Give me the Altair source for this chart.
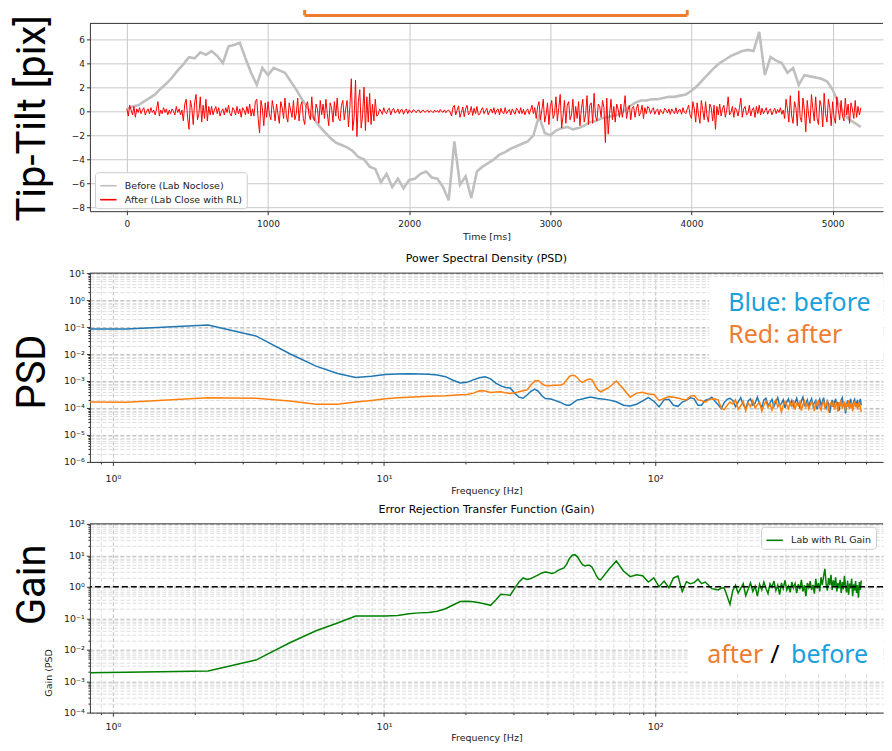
import altair as alt
import pandas as pd

# ---------------- data ----------------
TIME_STEP_BEFORE_MS = 40
TIME_STEP_AFTER_MS = 10

TILT_BEFORE = [
    0.2, 0.4, 0.5, 0.8, 1.1, 1.4, 1.9, 2.3, 2.8, 3.4,
    3.9, 4.5, 4.4, 4.9, 4.7, 5.0, 4.6, 4.0, 5.4, 5.5,
    5.7, 4.4, 3.2, 2.2, 3.6, 3.0, 3.6, 3.4, 3.2, 2.5,
    1.8, 1.0, 0.3, -0.5, -1.2, -1.7, -2.2, -2.6, -2.8, -3.0,
    -3.3, -3.8, -4.0, -4.6, -4.8, -5.9, -5.2, -6.3, -5.6, -6.4,
    -5.7, -5.6, -5.2, -5.0, -5.5, -5.6, -6.3, -7.4, -2.5, -6.1,
    -5.4, -7.2, -5.0, -4.6, -4.3, -4.0, -3.6, -3.4, -3.1, -2.9,
    -2.7, -2.5, -2.0, -0.4, -1.8, -2.0, -1.6, -1.4, -1.3, -1.5,
    -1.4, -1.2, -0.9, -0.8, -0.6, -0.5, -0.4, -0.3, 0.0, 0.4,
    0.7, 0.9, 0.9, 1.0, 1.0, 1.1, 1.2, 1.2, 1.3, 1.4,
    1.7, 2.1, 2.6, 3.1, 3.6, 4.0, 4.3, 4.6, 4.8, 5.0,
    5.1, 5.0, 6.6, 3.0, 4.5, 4.2, 4.0, 3.2, 3.6, 2.2,
    3.0, 2.9, 2.8, 2.7, 2.5, 1.8, 0.7, -0.2, -0.7, -1.0,
    -1.3,
]

TILT_AFTER = [
    # 0-90 ms
    0.2, -0.4, 0.5, 0.1, -0.3, 0.4, -0.5, 0.2, -0.1, 0.3,
    # 100-390 ms
    -0.2, 0.1, 0.3, -0.3, 0.0, 0.2, -0.2, 0.3, -0.1, 0.1,
    -0.3, 0.2, 0.8, -0.4, 0.1, -0.2, 0.3, -0.1, 0.2, -0.3,
    0.1, -0.2, 0.2, 0.0, -0.3, 0.4, -0.1, 0.2, -0.3, 0.1,
    # 400-590 ms
    -0.8, 0.6, 1.0, -0.5, -1.5, 0.9, 0.3, -1.1, 0.7, 1.4,
    -0.7, -0.2, 1.2, -0.9, 0.5, -0.6, 1.0, -0.8, 0.4, -0.3,
    # 600-890 ms
    0.4, -0.3, 0.1, 0.4, -0.2, 0.3, -0.4, 0.0, 0.2, -0.3,
    0.3, -0.1, 0.5, -0.2, -0.4, 0.3, 0.1, -0.3, 0.4, -0.2,
    0.2, -0.5, 0.3, 0.1, -0.3, 0.4, -0.2, 0.6, -0.4, 0.2,
    # 900-990 ms
    -0.4, 0.8, 1.0, -0.6, -1.8, 0.9, 0.2, -1.2, 0.7, -0.5,
    # 1000-1550 ms
    0.8, -0.3, -0.7, 0.9, 0.2, -0.8, 0.6, -0.2, -1.0, 0.8,
    0.3, -0.6, 1.1, -0.4, -0.9, 0.7, 0.1, -0.5, 0.9, -0.7,
    -0.2, 1.1, -0.8, 0.4, 0.8, -0.6, -1.1, 0.5, 0.8, -0.3,
    -0.7, 1.2, -0.5, -0.8, 0.6, 0.2, -1.0, 0.9, -0.3, 0.6,
    -0.6, 1.0, -0.2, -1.2, 0.7, 0.3, -0.9, 0.8, -0.4, 1.1,
    -0.6, -0.8, 0.5, 0.9, -0.7, 0.2,
    # 1560-1770 ms
    0.9, -1.3, 0.4, 2.7, -1.6, -0.5, 2.6, -2.1, 0.8, 1.8,
    -1.4, -0.3, 2.0, -1.6, 1.2, -0.9, 1.5, -1.1, 0.6, -0.8,
    1.0, -0.4,
    # 1780-1990 ms
    -0.3, 0.2, 0.0, -0.25, 0.3, -0.1, -0.2, 0.15, 0.25, -0.3,
    0.1, 0.25, -0.15, -0.05, 0.2, -0.2, 0.1, 0.15, -0.25, 0.05,
    0.2, -0.2,
    # 2000-2290 ms
    0.12, -0.05, -0.1, 0.15, 0.02, -0.12, 0.08, 0.1, -0.15, 0.05,
    0.1, -0.08, -0.02, 0.12, -0.1, 0.06, 0.0, -0.12, 0.1, -0.05,
    0.08, -0.1, 0.15, -0.02, -0.08, 0.12, -0.12, 0.05, 0.1, -0.06,
    # 2300-2490 ms
    -0.4, 0.3, 0.5, -0.3, 0.1, 0.45, -0.5, -0.1, 0.35, -0.45,
    0.2, 0.5, -0.3, -0.1, 0.4, -0.35, 0.25, -0.2, 0.4, -0.3,
    # 2500-2890 ms
    -0.25, 0.1, 0.3, -0.2, 0.05, 0.25, -0.3, 0.0, 0.2, -0.15,
    0.3, -0.25, 0.1, 0.2, -0.3, 0.25, -0.1, -0.2, 0.3, -0.2,
    0.0, 0.15, -0.3, 0.2, -0.05, -0.25, 0.25, 0.1, -0.2, 0.3,
    -0.2, 0.15, -0.3, 0.05, 0.2, -0.25, 0.1, 0.5, -0.2, 0.3,
    # 2900-3190 ms
    -0.6, 0.4, 0.8, -0.7, 0.1, 1.0, -0.9, -0.3, 0.7, -1.1,
    0.4, 0.9, -0.6, -0.2, 1.2, -0.8, 0.3, 1.4, -1.4, -0.4,
    0.9, -1.0, 0.5, 0.8, -0.7, -0.3, 1.0, -0.9, 0.4, -0.6,
    # 3200-3490 ms
    0.8, -1.2, 0.2, 1.0, -0.9, -0.3, 1.3, -1.1, 0.5, 0.7,
    -1.0, 1.5, -0.4, -0.8, 0.6, 0.4, -0.5, 0.9, 0.3, -2.6,
    1.1, -1.9, -0.2, 1.0, -0.7, 0.4, -0.9, 0.6, 0.2, -0.5,
    # 3500-3690 ms
    0.6, -0.5, 0.2, 1.3, -0.6, 0.1, 0.5, -0.7, 0.3, 0.4,
    -0.5, 0.2, 0.6, -0.4, -0.1, 0.5, -0.6, 0.3, -0.2, 0.4,
    # 3700-3990 ms
    0.25, -0.2, 0.1, 0.3, -0.25, 0.05, 0.2, -0.3, 0.15, -0.1,
    -0.2, 0.25, 0.1, -0.15, 0.2, -0.25, 0.2, 0.0, -0.2, 0.3,
    -0.2, 0.1, 0.15, -0.25, 0.3, -0.1, -0.2, 0.2, 0.5, -0.3,
    # 4000-4190 ms
    -0.6, 0.8, 0.2, -0.9, 0.7, -0.3, -1.0, 0.9, 0.1, -0.7,
    0.8, -0.4, -0.9, 0.6, 0.3, -0.8, 0.5, -1.5, 0.4, -0.3,
    # 4200-4490 ms
    0.6, -0.4, 0.2, 0.5, -0.5, 0.1, 1.2, -0.3, -0.1, 0.4,
    -0.5, 0.3, 0.1, -0.4, 0.3, 1.1, -0.5, 0.2, 0.4, -0.3,
    -0.2, 0.5, -0.4, 0.1, 0.3, -0.5, 0.4, -0.2, 0.5, -0.3,
    # 4500-4650 ms
    0.25, -0.2, 0.05, 0.3, -0.25, 0.1, 0.2, -0.3, 0.0, 0.25,
    -0.2, 0.15, -0.1, 0.3, -0.25, 0.1,
    # 4660-5200 ms
    -0.6, 1.0, 0.2, -0.9, 1.3, -0.4, -1.0, 0.8, 0.3, -1.2,
    1.7, -0.5, -0.9, 1.1, 0.1, -1.7, 0.9, -0.3, -1.0, 1.4,
    0.2, -0.8, 1.2, -0.6, -1.1, 0.9, 0.4, -1.3, 1.5, -0.2,
    -0.9, 1.0, 0.3, -1.2, 0.8, -0.5, -1.0, 1.2, 0.1, -0.7,
    0.9, -0.4, -0.8, 1.1, -0.3, 0.6, -1.0, 0.7, 0.2, -0.6,
    0.9, -0.5, 0.4, -0.3, 0.3,
]

# frequency grid: first plotted point, then FFT bins (bin width FREQ_RES_HZ)
FREQ_START_HZ = 0.823
FREQ_RES_HZ = 1.123
FREQ_BINS = list(range(1, 57)) + list(range(60, 513, 4))

PSD_BEFORE_LOG10 = [
    -1.07, -1.07, -0.92, -1.33, -1.99, -2.45, -2.72, -2.87, -2.82, -2.76,
    -2.74, -2.73, -2.74, -2.75, -2.78, -2.84, -2.97, -3.07, -3.05, -2.96,
    -2.88, -2.84, -2.92, -3.08, -3.18, -3.24, -3.26, -3.45, -3.60, -3.64,
    -3.52, -3.38, -3.30, -3.38, -3.55, -3.65, -3.66, -3.68, -3.72, -3.76,
    -3.80, -3.86, -3.90, -3.90, -3.84, -3.76, -3.70, -3.69, -3.67, -3.64,
    -3.62, -3.60, -3.60, -3.62, -3.64, -3.66, -3.66,
    -3.70, -3.77, -3.90, -3.93, -3.86, -3.74, -3.62, -3.75, -3.96, -3.70,
    -3.68, -3.90, -3.94, -3.78, -3.72, -3.62, -3.66, -3.90, -3.90, -3.72,
    -3.68, -3.60, -3.75, -3.88, -4.02, -3.80, -3.68, -3.64,
    -3.72, -3.95, -3.78, -3.62, -3.88, -4.02, -3.74, -3.66, -3.90, -3.82,
    -3.60, -3.85, -3.98, -3.70, -3.64, -3.92, -3.80, -3.68, -3.95, -3.76,
    -3.62, -3.90, -3.84, -3.70, -4.00, -3.78, -3.66, -3.88, -3.72, -3.94,
    -3.80, -3.64, -3.86, -3.98, -3.74, -3.60, -3.90, -3.82, -3.70, -3.96,
    -3.76, -3.66, -3.92, -3.80, -3.72, -4.05, -3.84, -3.68, -3.90, -3.78,
    -3.62, -3.88, -4.00, -3.74, -3.84, -4.18, -3.90, -3.70, -3.96, -3.80,
    -3.66, -3.92, -3.78, -4.10, -3.86, -3.70, -3.62, -3.94, -3.82, -4.20,
    -3.88, -3.72, -3.98, -3.80, -3.66, -3.90, -4.04, -3.76, -3.68, -3.94,
    -3.82, -3.70, -3.96, -3.84, -3.66, -3.90,
]

PSD_AFTER_LOG10 = [
    -3.78, -3.79, -3.62, -3.64, -3.74, -3.86, -3.86, -3.78, -3.72, -3.66,
    -3.62, -3.60, -3.58, -3.57, -3.56, -3.55, -3.53, -3.51, -3.50, -3.45,
    -3.36, -3.37, -3.43, -3.41, -3.40, -3.44, -3.46, -3.44, -3.40, -3.36,
    -3.33, -3.15, -3.00, -2.98, -3.10, -3.17, -3.18, -3.17, -3.16, -3.16,
    -3.15, -3.10, -2.95, -2.83, -2.79, -2.80, -2.88, -3.00, -3.05, -3.00,
    -2.95, -2.93, -2.95, -3.10, -3.25, -3.34, -3.40,
    -3.25, -3.00, -3.30, -3.60, -3.45, -3.42, -3.48, -3.50, -3.72, -3.65,
    -3.58, -3.60, -3.63, -3.68, -3.70, -3.56, -3.54, -3.70, -3.72, -3.78,
    -3.70, -3.66, -3.67, -3.70, -4.00, -4.06, -3.90, -3.78,
    -3.85, -3.70, -4.05, -3.92, -3.75, -4.10, -3.82, -3.95, -3.72, -4.00,
    -3.88, -3.78, -4.12, -3.90, -3.74, -3.98, -3.85, -4.08, -3.80, -3.70,
    -3.96, -3.86, -4.14, -3.90, -3.76, -3.88, -4.02, -3.80, -3.94, -3.72,
    -4.06, -3.84, -3.92, -3.78, -4.10, -3.88, -3.74, -3.96, -3.82, -4.04,
    -3.90, -3.76, -3.86, -4.12, -3.80, -3.92, -3.70, -3.98, -4.08, -3.84,
    -3.76, -4.00, -3.90, -3.72, -4.16, -3.86, -3.80, -3.96, -3.74, -4.06,
    -3.90, -3.82, -4.14, -3.78, -3.94, -3.70, -4.02, -3.88, -3.76, -4.10,
    -3.84, -3.96, -3.72, -4.04, -3.90, -3.80, -4.12, -3.86, -3.74, -3.98,
    -3.82, -4.06, -3.90, -3.78, -4.00, -4.15,
]

GAIN_LOG10 = [
    -2.73, -2.72, -2.68, -2.33, -1.78, -1.40, -1.15, -0.93, -0.93, -0.93,
    -0.91, -0.86, -0.83, -0.82, -0.78, -0.70, -0.58, -0.47, -0.46, -0.48,
    -0.51, -0.55, -0.59, -0.42, -0.24, -0.25, -0.27, -0.05, 0.15, 0.28,
    0.23, 0.26, 0.32, 0.38, 0.44, 0.47, 0.45, 0.42, 0.45, 0.52,
    0.56, 0.60, 0.72, 0.90, 1.00, 1.02, 0.95, 0.82, 0.70, 0.66,
    0.68, 0.68, 0.63, 0.50, 0.35, 0.25, 0.22,
    0.55, 0.82, 0.50, 0.32, 0.38, 0.35, 0.15, 0.28, 0.00, 0.18,
    -0.03, 0.28, 0.34, -0.15, 0.16, 0.10, 0.13, 0.24, 0.10, 0.15,
    0.05, -0.06, -0.08, -0.10, -0.04, -0.04, -0.30, -0.56,
    -0.12, 0.05, -0.20, -0.05, 0.10, -0.28, -0.08, 0.12, -0.15, 0.02,
    -0.30, 0.08, -0.10, 0.15, -0.05, -0.22, 0.10, -0.02, 0.18, -0.12,
    0.05, -0.25, 0.12, -0.06, 0.20, -0.10, 0.02, -0.18, 0.15, -0.04,
    0.10, -0.20, 0.08, -0.08, 0.22, -0.15, 0.05, -0.30, 0.12, -0.02,
    0.18, -0.10, 0.06, -0.22, 0.25, -0.05, 0.12, -0.15, 0.30, 0.05,
    0.35, 0.57, 0.10, -0.12, 0.28, 0.05, 0.38, -0.10, 0.20, 0.02,
    0.30, -0.15, 0.12, -0.05, 0.22, -0.20, 0.15, -0.08, 0.35, 0.00,
    -0.18, 0.20, -0.25, 0.10, -0.05, 0.25, -0.30, 0.08, -0.12, 0.18,
    -0.20, 0.05, -0.35, 0.15, -0.10, 0.20,
]

TOP_SERIES = ["Before (Lab Noclose)", "After (Lab Close with RL)"]
TOP_COLORS = ["#bfbfbf", "#ff0000"]
GAIN_SERIES = "Lab with RL Gain"
TIME_TICKS = [0, 1000, 2000, 3000, 4000, 5000]
TILT_TICKS = [-8, -6, -4, -2, 0, 2, 4, 6]

# ---------------- frames ----------------
df_before = pd.DataFrame({"t": [i * TIME_STEP_BEFORE_MS for i in range(len(TILT_BEFORE))],
                          "v": TILT_BEFORE, "series": TOP_SERIES[0]})
df_after = pd.DataFrame({"t": [i * TIME_STEP_AFTER_MS for i in range(len(TILT_AFTER))],
                         "v": TILT_AFTER, "series": TOP_SERIES[1]})
freqs = [FREQ_START_HZ] + [k * FREQ_RES_HZ for k in FREQ_BINS]
n = min(len(freqs), len(PSD_BEFORE_LOG10), len(PSD_AFTER_LOG10), len(GAIN_LOG10))
df_psd = pd.DataFrame({
    "f": freqs[:n],
    "before": [10 ** v for v in PSD_BEFORE_LOG10[:n]],
    "after": [10 ** v for v in PSD_AFTER_LOG10[:n]],
    "gain": [10 ** v for v in GAIN_LOG10[:n]],
    "series": GAIN_SERIES,
})
ANN = pd.DataFrame({"k": [0]})

# ---------------- layout constants ----------------
W = 794
H_TOP, H_MID, H_BOT = 188, 189, 189
FREQ_DOMAIN = [0.823, 691.7]
BIG_FONT = "Roboto"
TXT_FONT = "Noto Sans"
ORANGE = "#ed7d31"
LIGHTBLUE = "#1aa0dc"


def log_values(lo, hi):
    out = []
    for e in range(-8, 4):
        for k in range(1, 10):
            v = float(f"{k}e{e}")
            if lo * 0.9999 <= v <= hi * 1.0001:
                out.append(v)
    return out


DEC_TEST = "abs(log(datum.value)/LN10 - round(log(datum.value)/LN10)) < 0.001"
EXPN = "round(log(datum.value)/LN10)"
SUP = "['\u2070','\u00b9','\u00b2','\u00b3','\u2074','\u2075','\u2076','\u2077','\u2078','\u2079']"
LABEL_EXPR = f"({DEC_TEST}) ? '10' + ({EXPN} < 0 ? '\u207b' : '') + {SUP}[abs({EXPN})] : ''"


def log_axis(values, title=None, label_pad=2, title_pad=3):
    return alt.Axis(
        values=values, labelExpr=LABEL_EXPR, labelOverlap=False, labelFlush=False,
        grid=True,
        gridColor={"condition": {"test": DEC_TEST, "value": "#b3b3b3"}, "value": "#d6d6d6"},
        gridDash=[4, 2], gridWidth=0.8,
        tickSize={"condition": {"test": DEC_TEST, "value": 3.5}, "value": 2},
        labelFontSize=9.5, title=title, labelPadding=label_pad, titlePadding=title_pad,
    )


def top_spine():
    return alt.Chart(ANN).mark_rule(color="#333333", strokeWidth=1).encode(
        x=alt.value(0), x2=alt.value(W), y=alt.value(0))


def big_label(text, y):
    return alt.Chart(ANN).mark_text(
        text=text, angle=270, fontSize=40, font=BIG_FONT, color="black",
        align="center", baseline="alphabetic").encode(x=alt.value(-44.5), y=alt.value(y))


def legend(x, y):
    return alt.Legend(orient="none", legendX=x, legendY=y, title=None, symbolType="stroke",
                      symbolSize=270, symbolStrokeWidth=1.6, labelFontSize=9.5, labelColor="#222",
                      fillColor="white", strokeColor="#cccccc", padding=4, cornerRadius=3,
                      rowPadding=0, labelOffset=7)


# ---------------- top panel ----------------
x_time = alt.X("t:Q", scale=alt.Scale(domain=[-262, 5357], nice=False, zero=False),
               axis=alt.Axis(values=TIME_TICKS, format="d", title="Time [ms]", grid=True,
                             gridColor="#c8c8c8", gridWidth=1, tickSize=3.5, labelFlush=False,
                             labelPadding=5))
y_tilt = alt.Y("v:Q", scale=alt.Scale(domain=[-8.3, 7.3], nice=False, zero=False),
               axis=alt.Axis(values=TILT_TICKS, format="d", title=None, grid=True,
                             gridColor="#c8c8c8", gridWidth=1, tickSize=3.5, labelFlush=False))
top_color = alt.Color("series:N", scale=alt.Scale(domain=TOP_SERIES, range=TOP_COLORS),
                      legend=legend(5, 149))

line_before = alt.Chart(df_before).mark_line(strokeWidth=2.6, clip=True).encode(
    x=x_time, y=y_tilt, color=top_color)
line_after = alt.Chart(df_after).mark_line(strokeWidth=1.0, clip=True).encode(
    x=x_time, y=y_tilt, color=top_color)

box_rule_kw = dict(color=ORANGE, strokeWidth=3)
title_box = [
    alt.Chart(ANN).mark_rule(**box_rule_kw).encode(x=alt.value(215), y=alt.value(-13.5), y2=alt.value(-8)),
    alt.Chart(ANN).mark_rule(**box_rule_kw).encode(x=alt.value(598), y=alt.value(-13.5), y2=alt.value(-8)),
    alt.Chart(ANN).mark_rule(**box_rule_kw).encode(x=alt.value(215), x2=alt.value(598), y=alt.value(-8)),
]
# invisible anchor fixing the left edge of the whole figure
left_anchor = alt.Chart(ANN).mark_rule(strokeOpacity=0, strokeWidth=1).encode(
    x=alt.value(-81.5), y=alt.value(0), y2=alt.value(2))

top = alt.layer(
    line_before, line_after, top_spine(), *title_box, left_anchor, big_label("Tip-Tilt [pix]", 95)
).properties(width=W, height=H_TOP)

# ---------------- PSD panel ----------------
x_freq_mid = alt.X("f:Q", scale=alt.Scale(type="log", domain=FREQ_DOMAIN, nice=False),
                   axis=log_axis(log_values(*FREQ_DOMAIN), "Frequency [Hz]", label_pad=8))
y_psd_vals = log_values(1e-6, 1e1)
psd_scale = alt.Scale(type="log", domain=[1e-6, 1e1], nice=False)
psd_blue = alt.Chart(df_psd).mark_line(color="#1f77b4", strokeWidth=1.5, clip=True).encode(
    x=x_freq_mid, y=alt.Y("before:Q", scale=psd_scale, axis=log_axis(y_psd_vals)))
psd_orange = alt.Chart(df_psd).mark_line(color="#ff7f0e", strokeWidth=1.5, clip=True).encode(
    x=x_freq_mid, y=alt.Y("after:Q", scale=psd_scale, axis=log_axis(y_psd_vals)))

mid_box = alt.Chart(ANN).mark_rect(color="white").encode(
    x=alt.value(620), x2=alt.value(W), y=alt.value(4), y2=alt.value(87))
mid_t1 = alt.Chart(ANN).mark_text(text="Blue: before", font=TXT_FONT, fontSize=25, color=LIGHTBLUE,
                                  align="left", baseline="alphabetic").encode(
    x=alt.value(639), y=alt.value(38))
mid_t2 = alt.Chart(ANN).mark_text(text="Red: after", font=TXT_FONT, fontSize=25, color=ORANGE,
                                  align="left", baseline="alphabetic").encode(
    x=alt.value(639), y=alt.value(70))

mid = alt.layer(
    psd_blue, psd_orange, top_spine(), mid_box, mid_t1, mid_t2, big_label("PSD", 99)
).properties(width=W, height=H_MID,
             title=alt.TitleParams("Power Spectral Density (PSD)", fontSize=11, fontWeight="normal",
                                   font="DejaVu Sans", color="black", offset=4))

# ---------------- Gain panel ----------------
x_freq_bot = alt.X("f:Q", scale=alt.Scale(type="log", domain=FREQ_DOMAIN, nice=False),
                   axis=log_axis(log_values(*FREQ_DOMAIN), "Frequency [Hz]", label_pad=5,
                                 title_pad=2))
y_gain = alt.Y("gain:Q", scale=alt.Scale(type="log", domain=[1e-4, 1e2], nice=False),
               axis=log_axis(log_values(1e-4, 1e2)))
gain_color = alt.Color("series:N", scale=alt.Scale(domain=[GAIN_SERIES], range=["#008000"]),
                       legend=legend(672, 3))
gain_line = alt.Chart(df_psd).mark_line(strokeWidth=1.5, clip=True).encode(
    x=x_freq_bot, y=y_gain, color=gain_color)
unity = alt.Chart(ANN).mark_rule(color="black", strokeDash=[6, 3], strokeWidth=1.5).encode(
    y=alt.datum(1))

bot_box = alt.Chart(ANN).mark_rect(color="white").encode(
    x=alt.value(600), x2=alt.value(W), y=alt.value(105), y2=alt.value(150))
bt_kw = dict(font=TXT_FONT, fontSize=25, align="left", baseline="alphabetic")
bot_t1 = alt.Chart(ANN).mark_text(text="after", color=ORANGE, **bt_kw).encode(
    x=alt.value(618), y=alt.value(139))
bot_t2 = alt.Chart(ANN).mark_text(text="/", color="black", **bt_kw).encode(
    x=alt.value(681), y=alt.value(139))
bot_t3 = alt.Chart(ANN).mark_text(text="before", color=LIGHTBLUE, **bt_kw).encode(
    x=alt.value(702), y=alt.value(139))
gain_small = alt.Chart(ANN).mark_text(text="Gain (PSD", angle=270, fontSize=9.5, font="DejaVu Sans",
                                      color="#222", align="left", baseline="alphabetic").encode(
    x=alt.value(-38), y=alt.value(173))

bot = alt.layer(
    bot_box, gain_line, unity, top_spine(), bot_t1, bot_t2, bot_t3, big_label("Gain", 61), gain_small
).properties(width=W, height=H_BOT,
             title=alt.TitleParams("Error Rejection Transfer Function (Gain)", fontSize=11,
                                   fontWeight="normal", font="DejaVu Sans", color="black", offset=4))

chart = alt.vconcat(top, mid, bot, spacing=62, bounds="flush").resolve_scale(
    x="independent", y="independent", color="independent"
).resolve_legend(color="independent").properties(padding=0).configure(
    font="DejaVu Sans"
).configure_view(stroke=None).configure_axis(
    labelFontSize=9, labelColor="#222", titleFontSize=9.5, titleFontWeight="normal",
    titleColor="#222", domainColor="#333333", tickColor="#333333", domainWidth=1,
    tickWidth=1, labelPadding=2, titlePadding=3, labelFont="DejaVu Sans", titleFont="DejaVu Sans"
)

chart.save("out.html", embed_options={"renderer": "svg", "actions": False})
